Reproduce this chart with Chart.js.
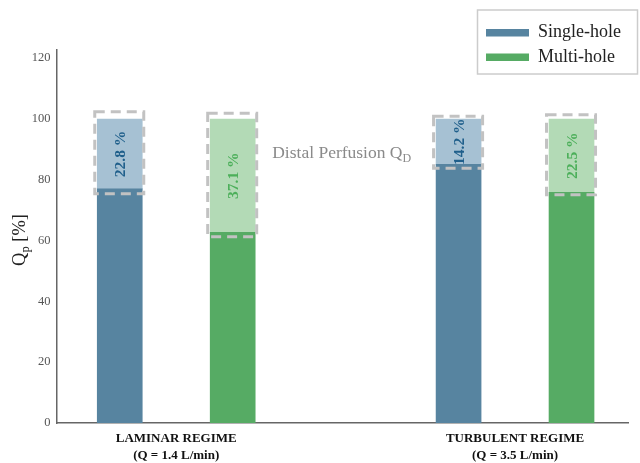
<!DOCTYPE html>
<html><head><meta charset="utf-8">
<script src="https://cdn.jsdelivr.net/npm/chart.js@4"></script>
<style>html,body{margin:0;padding:0;background:#fff}#wrap{width:640px;height:463px;position:relative}</style>
</head><body><div id="wrap"><canvas id="c" width="640" height="463"></canvas></div>
<script>
// ---- data ----
const groups = ['LAMINAR REGIME', 'TURBULENT REGIME'];
const flowRates = ['(Q = 1.4 L/min)', '(Q = 3.5 L/min)'];
const seriesNames = ['Single-hole', 'Multi-hole'];
const singleBase = [77.0, 85.1];     // proximal part Q_p
const multiBase = [62.7, 75.9];
const totalFlow = [100, 100];
const singleLabels = ['22.8 %', '14.2 %'];
const multiLabels = ['37.1 %', '22.5 %'];
const singleBoxLow = [75.4, 83.8];
const singleBoxHigh = [102.4, 100.9];
const multiBoxLow = [61.3, 75.1];
const multiBoxHigh = [101.9, 101.4];
const yTicks = [0, 20, 40, 60, 80, 100, 120];
const annotationText = 'Distal Perfusion Q';
const annotationSub = 'D';

// ---- styles ----
const COL = {
  singleDark: '#5784a0', singleLight: '#a6c1d3', singleText: '#1f5f8b',
  multiDark: '#56ab64', multiLight: '#b3dab6', multiText: '#4caf5a',
  dash: '#c2c2c2', axis: '#666666'
};
const SERIF = "'Liberation Serif', 'Times New Roman', serif";
const slot = (g, s) => g * 3 + s; // series s within group g

const pts = (vals, s) => vals.map((v, g) => ({x: slot(g, s), y: v}));
const rng = (lo, hi, s) => lo.map((v, g) => ({x: slot(g, s), y: [v, hi[g]]}));

const ds = (label, data, color, extra) => Object.assign({
  label, data, backgroundColor: color, borderWidth: 0, barThickness: 45, grouped: false
}, extra || {});

const overlay = {
  id: 'overlay',
  afterDatasetsDraw(chart) {
    const ctx = chart.ctx, y = chart.scales.y;
    const boxes = [
      {meta: chart.getDatasetMeta(1), lo: singleBoxLow, hi: singleBoxHigh, labels: singleLabels, color: COL.singleText},
      {meta: chart.getDatasetMeta(3), lo: multiBoxLow, hi: multiBoxHigh, labels: multiLabels, color: COL.multiText}
    ];
    ctx.save();
    // dashed boxes
    ctx.strokeStyle = COL.dash; ctx.lineWidth = 3; ctx.setLineDash([10, 6]);
    boxes.forEach(b => b.meta.data.forEach((el, i) => {
      const l = el.x - 25, r = el.x + 24;
      const t = y.getPixelForValue(b.hi[i]), bt = y.getPixelForValue(b.lo[i]);
      ctx.strokeRect(l, t, r - l, bt - t);
    }));
    ctx.setLineDash([]);
    // rotated labels
    boxes.forEach(b => b.meta.data.forEach((el, i) => {
      const cy = (el.y + el.base) / 2;
      ctx.save();
      ctx.translate(el.x + 1.5, cy);
      ctx.rotate(-Math.PI / 2);
      ctx.font = 'bold 15.5px ' + SERIF;
      ctx.fillStyle = b.color; ctx.textAlign = 'center'; ctx.textBaseline = 'middle';
      ctx.fillText(b.labels[i], 0, 0);
      ctx.restore();
    }));
    // annotation
    const ax = chart.scales.x.getPixelForValue(1.35), ay = y.getPixelForValue(87.1);
    ctx.font = '17.5px ' + SERIF; ctx.fillStyle = '#8a8a8a';
    ctx.textAlign = 'left'; ctx.textBaseline = 'alphabetic';
    ctx.fillText(annotationText, ax, ay);
    const w = ctx.measureText(annotationText).width;
    ctx.font = '12px ' + SERIF;
    ctx.fillText(annotationSub, ax + w, ay + 4);
    // y-axis title
    ctx.save();
    ctx.translate(25, 240);
    ctx.rotate(-Math.PI / 2);
    ctx.fillStyle = '#222';
    const parts = [['Q', '18.5px', 0], ['p', '12.5px', 4], [' [%]', '18.5px', 0]];
    let tw = 0;
    parts.forEach(p => { ctx.font = p[1] + ' ' + SERIF; tw += ctx.measureText(p[0]).width; });
    let px = -tw / 2;
    parts.forEach(p => { ctx.font = p[1] + ' ' + SERIF; ctx.fillText(p[0], px, p[2]); px += ctx.measureText(p[0]).width; });
    ctx.restore();
    // legend
    ctx.strokeStyle = '#cccccc'; ctx.lineWidth = 1.5;
    ctx.strokeRect(477.5, 10, 160, 64);
    const lc = [COL.singleDark, COL.multiDark], ly = [32.5, 57];
    seriesNames.forEach((n, i) => {
      ctx.fillStyle = lc[i];
      ctx.fillRect(486, ly[i] - 3.5, 43, 7.5);
      ctx.fillStyle = '#222'; ctx.font = '18px ' + SERIF;
      ctx.textAlign = 'left'; ctx.textBaseline = 'middle';
      ctx.fillText(n, 538, ly[i]);
    });
    ctx.restore();
  }
};

new Chart(document.getElementById('c'), {
  type: 'bar',
  data: {
    datasets: [
      ds(seriesNames[0], pts(singleBase, 0), COL.singleDark),
      ds(seriesNames[0] + ' distal', rng(singleBase, totalFlow, 0), COL.singleLight),
      ds(seriesNames[1], pts(multiBase, 1), COL.multiDark),
      ds(seriesNames[1] + ' distal', rng(multiBase, totalFlow, 1), COL.multiLight)
    ]
  },
  options: {
    responsive: false, animation: false,
    layout: {padding: {top: 50, right: 12, left: 0, bottom: 0}},
    plugins: {legend: {display: false}, tooltip: {enabled: false}},
    scales: {
      x: {
        type: 'linear', min: -0.56, max: 4.5, offset: false, bounds: 'ticks',
        grid: {display: false, drawTicks: false},
        border: {display: true, color: COL.axis, width: 1.5},
        afterBuildTicks: s => { s.ticks = groups.map((g, i) => ({value: slot(i, 0.5)})); },
        afterFit: s => { s.height = 40; },
        ticks: {
          autoSkip: false, maxRotation: 0, padding: 7, color: '#111',
          font: {family: SERIF, size: 13, weight: 'bold', lineHeight: 1.3},
          callback: (v, i) => [groups[i], flowRates[i]]
        }
      },
      y: {
        min: 0, max: 122.7,
        grid: {display: false, drawTicks: false},
        border: {display: true, color: COL.axis, width: 1.5},
        afterBuildTicks: s => { s.ticks = yTicks.map(v => ({value: v})); },
        afterFit: s => { s.width = 56.5; },
        ticks: {padding: 6, color: '#555', font: {family: SERIF, size: 12.5}}
      }
    }
  },
  plugins: [overlay]
});
</script></body></html>
